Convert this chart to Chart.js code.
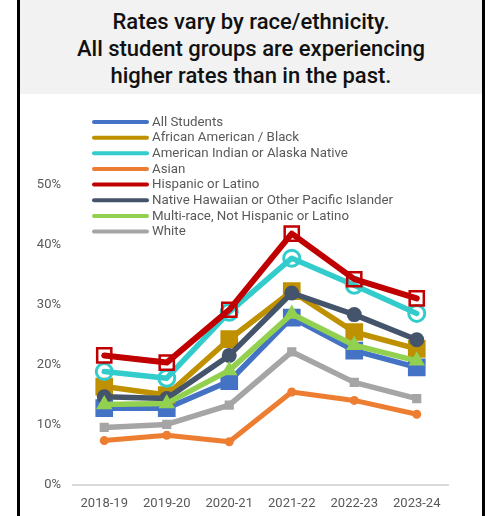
<!DOCTYPE html>
<html>
<head>
<meta charset="utf-8">
<script src="https://cdn.jsdelivr.net/npm/chart.js@4/dist/chart.umd.min.js"></script>
<style>
  html, body { margin: 0; padding: 0; background: #fff; }
  body { width: 492px; height: 516px; position: relative; overflow: hidden; font-family: Roboto, "Liberation Sans", sans-serif; }
  #frame { position: absolute; left: 17px; top: 0; width: 462px; height: 516px; border-left: 3px solid #000; border-right: 3px solid #000; }
  #title { position: absolute; left: 0; top: 0; width: 462px; height: 94px; background: #f2f2f2; text-align: center; color: #111; font-size: 22px; font-weight: 500; line-height: 27px; padding-top: 8px; box-sizing: border-box; }
  #wrap { position: absolute; left: 0; top: 94px; width: 460px; height: 422px; }
</style>
</head>
<body>
<div id="frame">
  <div id="title">Rates vary by race/ethnicity.<br>All student groups are experiencing<br>higher rates than in the past.</div>
  <div id="wrap"><canvas id="c"></canvas></div>
</div>
<script>
const categories = ['2018-19', '2019-20', '2020-21', '2021-22', '2022-23', '2023-24'];
const yTicks = [0, 10, 20, 30, 40, 50];
const seriesNames = ['All Students', 'African American / Black', 'American Indian or Alaska Native', 'Asian', 'Hispanic or Latino', 'Native Hawaiian or Other Pacific Islander', 'Multi-race, Not Hispanic or Latino', 'White'];
const allStudents = [12.8, 12.8, 17.3, 27.9, 22.4, 19.6];
const africanAmerican = [16.4, 15.0, 24.3, 32.3, 25.5, 22.7];
const americanIndian = [18.9, 17.8, 28.8, 37.8, 33.3, 28.6];
const asian = [7.4, 8.3, 7.2, 15.5, 14.1, 11.8];
const hispanic = [21.6, 20.4, 29.2, 41.9, 34.3, 31.1];
const nativeHawaiian = [14.7, 14.4, 21.6, 32.0, 28.4, 24.2];
const multiRace = [13.4, 13.6, 19.1, 28.5, 23.3, 20.7];
const white = [9.6, 10.1, 13.3, 22.2, 17.1, 14.4];

const seriesValues = [allStudents, africanAmerican, americanIndian, asian, hispanic, nativeHawaiian, multiRace, white];
const colors = ['#4472C4', '#BF9000', '#33CCCC', '#ED7D31', '#C00000', '#44546A', '#92D050', '#A5A5A5'];
const styles = ['rect', 'rect', 'circle', 'circle', 'rect', 'circle', 'triangle', 'rect'];
const radii = [12.5, 12.5, 8, 4.5, 10, 7.5, 9.5, 6.5];
const hollow = [false, false, true, false, true, false, false, false];
const borderW = [0, 0, 3, 0, 2.5, 0, 0, 0];
const lineW = [5.5, 5.5, 5.5, 5, 6, 5.5, 5.5, 5.5];

const datasets = seriesValues.map((vals, i) => ({
  label: seriesNames[i],
  data: vals,
  borderColor: colors[i],
  backgroundColor: colors[i],
  borderWidth: lineW[i],
  pointStyle: styles[i],
  pointRadius: radii[i],
  pointHoverRadius: radii[i],
  pointBackgroundColor: hollow[i] ? 'rgba(0,0,0,0)' : colors[i],
  pointBorderColor: colors[i],
  pointBorderWidth: borderW[i],
  tension: 0,
  order: seriesValues.length - i,
  borderJoinStyle: 'round',
  borderCapStyle: 'round'
}));

const legendPlugin = {
  id: 'customLegend',
  beforeDatasetsDraw(chart) {
    const ctx = chart.ctx;
    const x0 = 74, x1 = 127, mx = 100.5, tx = 132, y0 = 28, dy = 15.65;
    ctx.save();
    chart.data.datasets.forEach((ds, i) => {
      const y = y0 + i * dy;
      ctx.strokeStyle = ds.borderColor;
      ctx.lineWidth = 4;
      ctx.lineCap = 'round';
      ctx.beginPath();
      ctx.moveTo(x0, y);
      ctx.lineTo(x1, y);
      ctx.stroke();
      ctx.fillStyle = ds.pointBackgroundColor;
      ctx.strokeStyle = ds.pointBorderColor;
      ctx.lineWidth = ds.pointBorderWidth ? 1.6 : 0;
      Chart.helpers.drawPoint(ctx, {pointStyle: ds.pointStyle, rotation: 0, borderWidth: ctx.lineWidth}, mx, y, ds.pointRadius * 0.6);
      ctx.fillStyle = '#595959';
      ctx.font = '13.3px Roboto';
      ctx.textAlign = 'left';
      ctx.textBaseline = 'middle';
      ctx.fillText(ds.label, tx, y + 0.5);
    });
    ctx.restore();
  }
};

new Chart(document.getElementById('c'), {
  type: 'line',
  data: { labels: categories, datasets },
  plugins: [legendPlugin],
  options: {
    responsive: true,
    maintainAspectRatio: false,
    animation: false,
    layout: { padding: { top: 91, right: 32, left: 0, bottom: 0 } },
    plugins: { legend: { display: false }, title: { display: false }, tooltip: { enabled: false } },
    scales: {
      x: {
        offset: true,
        grid: { display: false, drawTicks: false },
        border: { display: true, color: '#D9D9D9', width: 2 },
        ticks: { color: '#595959', font: { family: 'Roboto', size: 13 }, padding: 11, maxRotation: 0 },
        afterFit(s) { s.height = 31; }
      },
      y: {
        min: 0, max: 50,
        afterBuildTicks(s) { s.ticks = yTicks.map(v => ({ value: v })); },
        grid: { display: false, drawTicks: false },
        border: { display: false },
        ticks: { color: '#595959', font: { family: 'Roboto', size: 13 }, padding: 12, callback: v => v + '%' },
        afterFit(s) { s.width = 53; }
      }
    }
  }
});
</script>
</body>
</html>
